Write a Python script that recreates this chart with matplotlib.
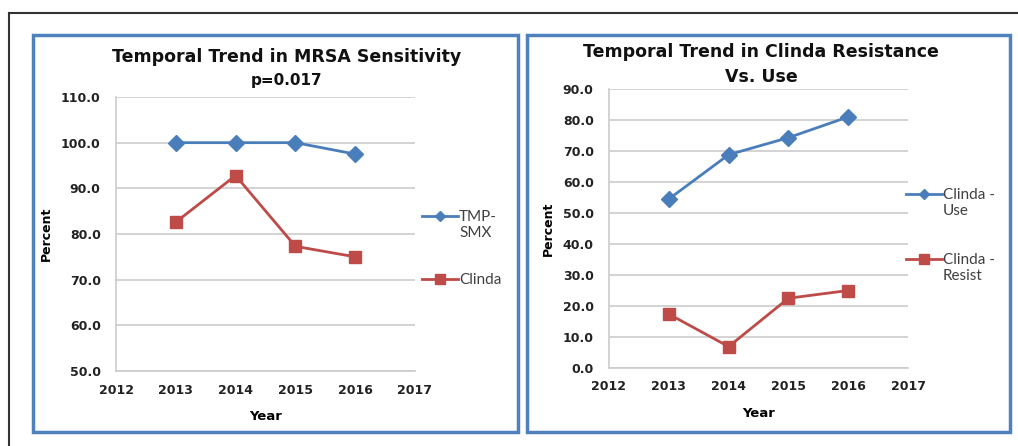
import matplotlib
matplotlib.use("Agg")
import matplotlib.pyplot as plt
from matplotlib.patches import Rectangle
from matplotlib.lines import Line2D

# data
years = [2013, 2014, 2015, 2016]
tmp_smx = [100.0, 100.0, 100.0, 97.5]
clinda_sens = [82.6, 92.8, 77.3, 75.0]
clinda_use = [54.5, 68.8, 74.3, 81.0]
clinda_resist = [17.4, 6.9, 22.5, 25.0]

xticks = [2012, 2013, 2014, 2015, 2016, 2017]
left_yticks = [50, 60, 70, 80, 90, 100, 110]
right_yticks = [0, 10, 20, 30, 40, 50, 60, 70, 80, 90]

BLUE = "#4a7ebb"
RED = "#be4b48"
GRID = "#cccccc"
W, H = 1018, 446

fig = plt.figure(figsize=(W / 100, H / 100), dpi=100)


def fx(px):
    return px / W


def fy(py):
    return 1 - py / H


# outer black frame (top + left)
fig.add_artist(Line2D([fx(9), 1], [fy(13), fy(13)], color="#333333", lw=1.5))
fig.add_artist(Line2D([fx(9), fx(9)], [fy(13), 0], color="#333333", lw=1.5))

# blue panel boxes
for x0, x1 in [(33, 518), (527, 1010)]:
    fig.add_artist(Rectangle((fx(x0), fy(432)), fx(x1 - x0), (432 - 35) / H,
                             fill=False, ec="#4f81bd", lw=2.5))


def panel(ax_px, yticks, s1, s2, labels, titles, title_x, title_y, title_fs,
          leg_x, leg_y):
    x0, x1, y0, y1 = ax_px
    ax = fig.add_axes([fx(x0), fy(y1), fx(x1 - x0), (y1 - y0) / H])
    ax.plot(years, s1, color=BLUE, lw=2, marker="D", ms=8, mfc=BLUE, mec=BLUE)
    ax.plot(years, s2, color=RED, lw=2, marker="s", ms=9, mfc=RED, mec=RED)
    ax.set_xlim(2012, 2017)
    ax.set_ylim(yticks[0], yticks[-1])
    ax.set_xticks(xticks)
    ax.set_yticks(yticks)
    ax.set_yticklabels(["%.1f" % v for v in yticks])
    ax.tick_params(axis="y", length=0, labelsize=9, pad=11)
    ax.tick_params(axis="x", length=0, labelsize=9, pad=9)
    for lab in ax.get_xticklabels() + ax.get_yticklabels():
        lab.set_fontweight("bold")
        lab.set_color("#222222")
    ax.grid(axis="y", color=GRID, lw=1.2)
    ax.set_axisbelow(True)
    for s in ["top", "right"]:
        ax.spines[s].set_visible(False)
    for s in ["left", "bottom"]:
        ax.spines[s].set_color(GRID)
        ax.spines[s].set_linewidth(1.2)
    ax.set_xlabel("Year", fontsize=9.5, fontweight="bold", labelpad=10)
    ax.set_ylabel("Percent", fontsize=9, fontweight="bold", labelpad=6)

    for t, ty, fs in zip(titles, title_y, title_fs):
        fig.text(fx(title_x), fy(ty), t, ha="center", va="center",
                 fontsize=fs, fontweight="bold", color="#111111")

    # legend drawn by hand to match the two-line Excel style
    for ly, lab, col, mk, ms in zip(leg_y, labels, [BLUE, RED], ["D", "s"],
                                    [5, 7]):
        fig.add_artist(Line2D([fx(leg_x), fx(leg_x + 36)], [fy(ly), fy(ly)],
                              color=col, lw=2))
        fig.add_artist(Line2D([fx(leg_x + 18)], [fy(ly)], color=col,
                              marker=mk, ms=ms, mfc=col, mec=col))
        fig.text(fx(leg_x + 37), fy(ly + 9), lab, ha="left", va="center",
                 fontsize=11, family="Lato", color="#404040",
                 linespacing=1.2)
    return ax


panel((116, 415, 97, 371), left_yticks, tmp_smx, clinda_sens,
      ["TMP-\nSMX", "Clinda\n"],
      ["Temporal Trend in MRSA Sensitivity", "p=0.017"], 287, (57, 80),
      (12.5, 11), 422, [216, 279])
panel((609, 908, 89, 368), right_yticks, clinda_use, clinda_resist,
      ["Clinda -\nUse", "Clinda -\nResist"],
      ["Temporal Trend in Clinda Resistance", "Vs. Use"], 761, (52, 77),
      (12.5, 12.5), 906, [194, 259])

fig.savefig("out.png", dpi=100)
